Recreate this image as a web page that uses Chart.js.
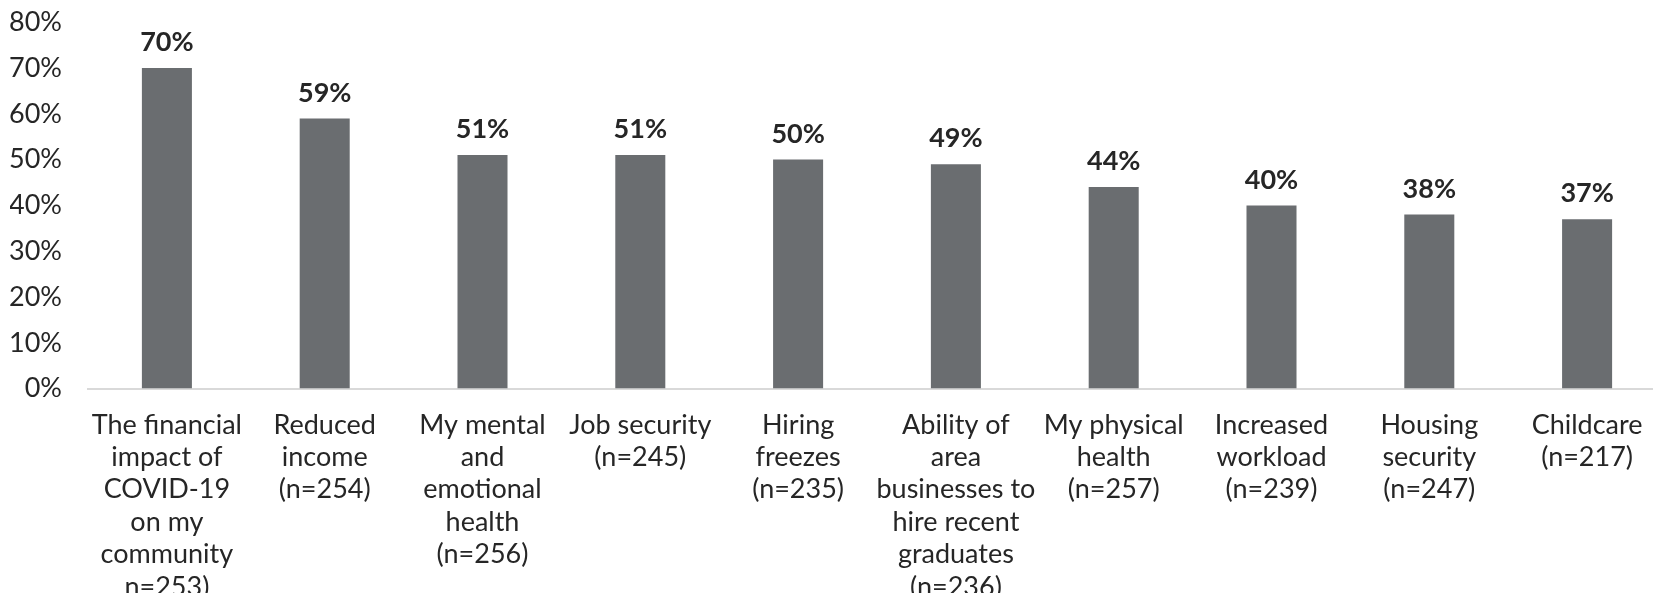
<!DOCTYPE html>
<html>
<head>
<meta charset="utf-8">
<title>Concerns</title>
<script src="https://cdn.jsdelivr.net/npm/chart.js@4/dist/chart.umd.min.js"></script>
<style>
    html, body { margin: 0; padding: 0; background: #fff; overflow: hidden; }
    #wrap { position: relative; width: 1668px; height: 643px; margin-top: -20px; }
</style>
</head>
<body>
<div id="wrap"><canvas id="chart"></canvas></div>
<script>
const categories = [
    ['The financial', 'impact of', 'COVID-19', 'on my', 'community', 'n=253)'],
    ['Reduced', 'income', '(n=254)'],
    ['My mental', 'and', 'emotional', 'health', '(n=256)'],
    ['Job security', '(n=245)'],
    ['Hiring', 'freezes', '(n=235)'],
    ['Ability of', 'area', 'businesses to', 'hire recent', 'graduates', '(n=236)'],
    ['My physical', 'health', '(n=257)'],
    ['Increased', 'workload', '(n=239)'],
    ['Housing', 'security', '(n=247)'],
    ['Childcare', '(n=217)'],
];
const percentages = [70, 59, 51, 51, 50, 49, 44, 40, 38, 37];
const yTicks = [0, 10, 20, 30, 40, 50, 60, 70, 80];

// percentage printed above each bar
const valueLabels = {
    id: 'valueLabels',
    afterDatasetsDraw(chart) {
        const ctx = chart.ctx;
        const meta = chart.getDatasetMeta(0);
        ctx.save();
        ctx.font = 'bold 27px Lato';
        ctx.fillStyle = '#262626';
        ctx.textAlign = 'center';
        ctx.textBaseline = 'bottom';
        meta.data.forEach((bar, i) => {
            ctx.fillText(percentages[i] + '%', bar.x, bar.y - 12);
        });
        ctx.restore();
    },
};

new Chart(document.getElementById('chart'), {
    type: 'bar',
    data: {
        labels: categories,
        datasets: [{
            data: percentages,
            backgroundColor: '#6a6d70',
            categoryPercentage: 1,
            barPercentage: 0.317,
        }],
    },
    options: {
        responsive: true,
        maintainAspectRatio: false,
        animation: false,
        layout: { padding: { left: 10, right: 2, top: -15, bottom: 0 } },
        plugins: {
            legend: { display: false },
            tooltip: { enabled: false },
        },
        scales: {
            x: {
                grid: { display: false, drawTicks: false },
                border: { color: '#d9d9d9', width: 2 },
                ticks: {
                    color: '#262626',
                    font: { family: 'Lato', size: 27, lineHeight: 1.2 },
                    padding: 20,
                    maxRotation: 0,
                    autoSkip: false,
                },
            },
            y: {
                min: 0,
                max: 80,
                afterBuildTicks(scale) {
                    scale.ticks = yTicks.map(v => ({ value: v }));
                },
                afterFit(scale) {
                    scale.width = 78;
                },
                grid: { display: false, drawTicks: false },
                border: { display: false },
                ticks: {
                    color: '#262626',
                    font: { family: 'Lato', size: 27 },
                    padding: 26,
                    callback: v => v + '%',
                },
            },
        },
    },
    plugins: [valueLabels],
});
</script>
</body>
</html>
